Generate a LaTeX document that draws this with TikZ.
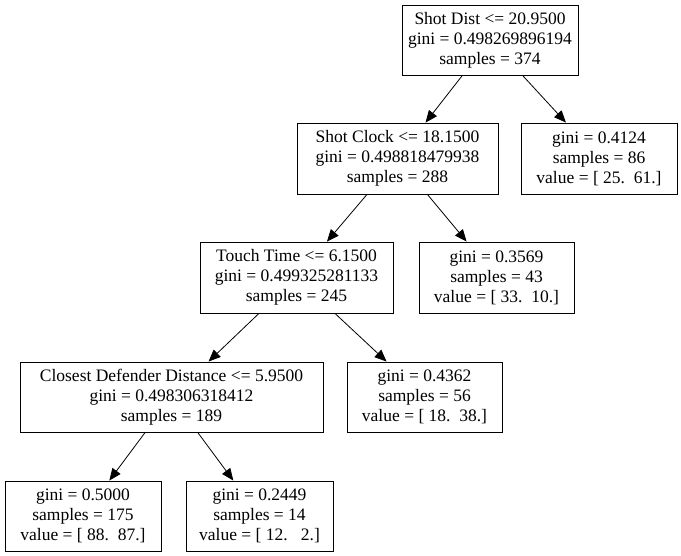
\documentclass[tikz,border=0pt]{standalone}
\usepackage{fontspec}
\setmainfont{Liberation Serif}
\usetikzlibrary{positioning,arrows.meta}
\tikzset{
  split/.style ={draw, line width=0.9pt, align=center, inner sep=0pt,
                 font=\fontsize{17.5}{20}\selectfont},
  leaf/.style  ={split},
  branch/.style={-{Triangle[length=12pt, width=10pt]}, line width=0.8pt},
}
\begin{document}
\begin{tikzpicture}[x=1pt,y=1pt]
  \useasboundingbox (0,0) rectangle (681,-556);
  % internal splits
  \node[split, minimum width=176pt, minimum height=70pt] (root) at (490,-40)
    {Shot Dist <= 20.9500\\gini = 0.498269896194\\samples = 374};
  \node[split, minimum width=201pt, minimum height=71pt] (shotclock) at (397.5,-158.5)
    {Shot Clock <= 18.1500\\gini = 0.498818479938\\samples = 288};
  \node[split, minimum width=193pt, minimum height=71pt] (touch) at (296.5,-277.5)
    {Touch Time <= 6.1500\\gini = 0.499325281133\\samples = 245};
  \node[split, minimum width=303pt, minimum height=70pt] (closest) at (171.5,-397)
    {Closest Defender Distance <= 5.9500\\gini = 0.498306318412\\samples = 189};
  % leaves
  \node[leaf, minimum width=156pt, minimum height=71pt] (leafa) at (599,-158.5)
    {gini = 0.4124\\samples = 86\\value = [ 25.~~61.]};
  \node[leaf, minimum width=155pt, minimum height=71pt] (leafb) at (496.5,-277.5)
    {gini = 0.3569\\samples = 43\\value = [ 33.~~10.]};
  \node[leaf, minimum width=155pt, minimum height=70pt] (leafc) at (424.5,-397)
    {gini = 0.4362\\samples = 56\\value = [ 18.~~38.]};
  \node[leaf, minimum width=156pt, minimum height=70pt] (leafd) at (83,-516)
    {gini = 0.5000\\samples = 175\\value = [ 88.~~87.]};
  \node[leaf, minimum width=147pt, minimum height=70pt] (leafe) at (259.5,-516)
    {gini = 0.2449\\samples = 14\\value = [ 12.~~~2.]};
  % edges
  \draw[branch] (root) -- (shotclock);
  \draw[branch] (root) -- (leafa);
  \draw[branch] (shotclock) -- (touch);
  \draw[branch] (shotclock) -- (leafb);
  \draw[branch] (touch) -- (closest);
  \draw[branch] (touch) -- (leafc);
  \draw[branch] (closest) -- (leafd);
  \draw[branch] (closest) -- (leafe);
\end{tikzpicture}
\end{document}
